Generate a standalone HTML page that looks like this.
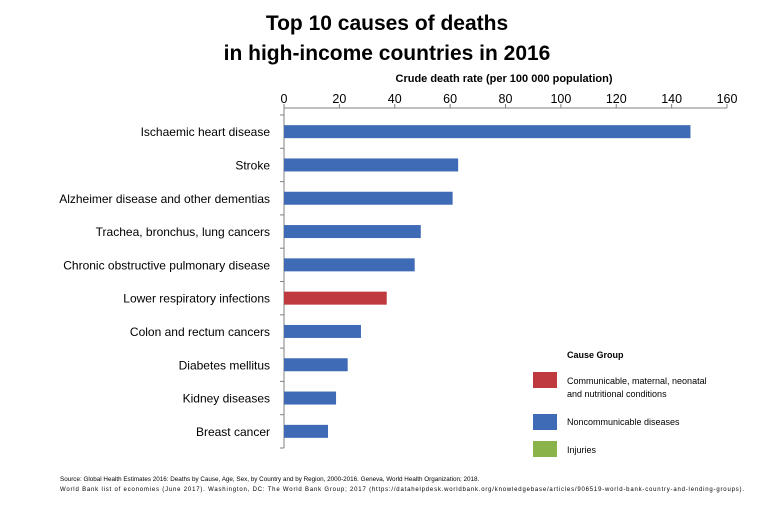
<!DOCTYPE html>
<html><head><meta charset="utf-8"><style>
body{margin:0;background:#fff;}
svg text{font-family:"Liberation Sans",sans-serif;}
</style></head><body>
<svg id="c" width="773" height="500" xmlns="http://www.w3.org/2000/svg">
<text x="387" y="30" text-anchor="middle" font-size="21" font-weight="bold">Top 10 causes of deaths</text>
<text x="387" y="60" text-anchor="middle" font-size="21" font-weight="bold">in high-income countries in 2016</text>
<text x="504" y="82" text-anchor="middle" font-size="11" font-weight="bold">Crude death rate (per 100 000 population)</text>
<g id="g"></g>
<text x="567" y="358" font-size="9" font-weight="bold">Cause Group</text>
<rect x="533" y="372" width="24" height="16" fill="#be3a3f"/>
<text x="567" y="384" font-size="9">Communicable, maternal, neonatal</text>
<text x="567" y="397" font-size="9">and nutritional conditions</text>
<rect x="533" y="414" width="24" height="16" fill="#3f6ab5"/>
<text x="567" y="425" font-size="9">Noncommunicable diseases</text>
<rect x="533" y="441" width="24" height="16" fill="#8ab34a"/>
<text x="567" y="453" font-size="9">Injuries</text>
<text x="60" y="481" font-size="6.3">Source: Global Health Estimates 2016: Deaths by Cause, Age, Sex, by Country and by Region, 2000-2016. Geneva, World Health Organization; 2018.</text>
<text x="60" y="491" font-size="6" textLength="684">World Bank list of economies (June 2017). Washington, DC: The World Bank Group;  2017 (https://datahelpdesk.worldbank.org/knowledgebase/articles/906519-world-bank-country-and-lending-groups).</text>
</svg>
<script>
const categories=["Ischaemic heart disease","Stroke","Alzheimer disease and other dementias","Trachea, bronchus, lung cancers","Chronic obstructive pulmonary disease","Lower respiratory infections","Colon and rectum cancers","Diabetes mellitus","Kidney diseases","Breast cancer"];
const values=[146.8,62.9,60.9,49.4,47.2,37.1,27.8,23,18.8,15.9];
const groups=["N","N","N","N","N","C","N","N","N","N"];
const ticks=[0,20,40,60,80,100,120,140,160];
const colors={N:"#3f6ab5",C:"#be3a3f",I:"#8ab34a"};
const x0=284,x1=727,yTop=115,band=33.3,axisY=108;
const xs=v=>x0+v*(x1-x0)/160;
const NS="http://www.w3.org/2000/svg",g=document.getElementById('g');
function mk(t,a){const e=document.createElementNS(NS,t);for(const k in a)e.setAttribute(k,a[k]);g.appendChild(e);return e;}
let e=mk('line',{x1:x0,y1:axisY,x2:x1,y2:axisY,stroke:'#808080'});


e=mk('line',{x1:x0,y1:axisY,x2:x0,y2:yTop+band*categories.length,stroke:'#808080'});


ticks.forEach(t=>{
 let l=mk('line',{x1:xs(t),y1:axisY-4,x2:xs(t),y2:axisY,stroke:'#808080'});
 
 
 let tx=mk('text',{x:xs(t),y:103,'text-anchor':'middle','font-size':12.5});
 tx.textContent=t;
 
 
});
for(let i=0;i<=categories.length;i++){
 let l=mk('line',{x1:x0-4,y1:yTop+band*i,x2:x0,y2:yTop+band*i,stroke:'#808080'});
 
 
}
categories.forEach((c,i)=>{
 const cy=yTop+band*(i+0.5);
 let r=mk('rect',{x:x0,y:cy-6.5,width:xs(values[i])-x0,height:13,fill:colors[groups[i]]});
 
 
 let t=mk('text',{x:270,y:cy+4.5,'text-anchor':'end','font-size':12});
 t.textContent=c;
 
 
});
</script>
</body></html>
